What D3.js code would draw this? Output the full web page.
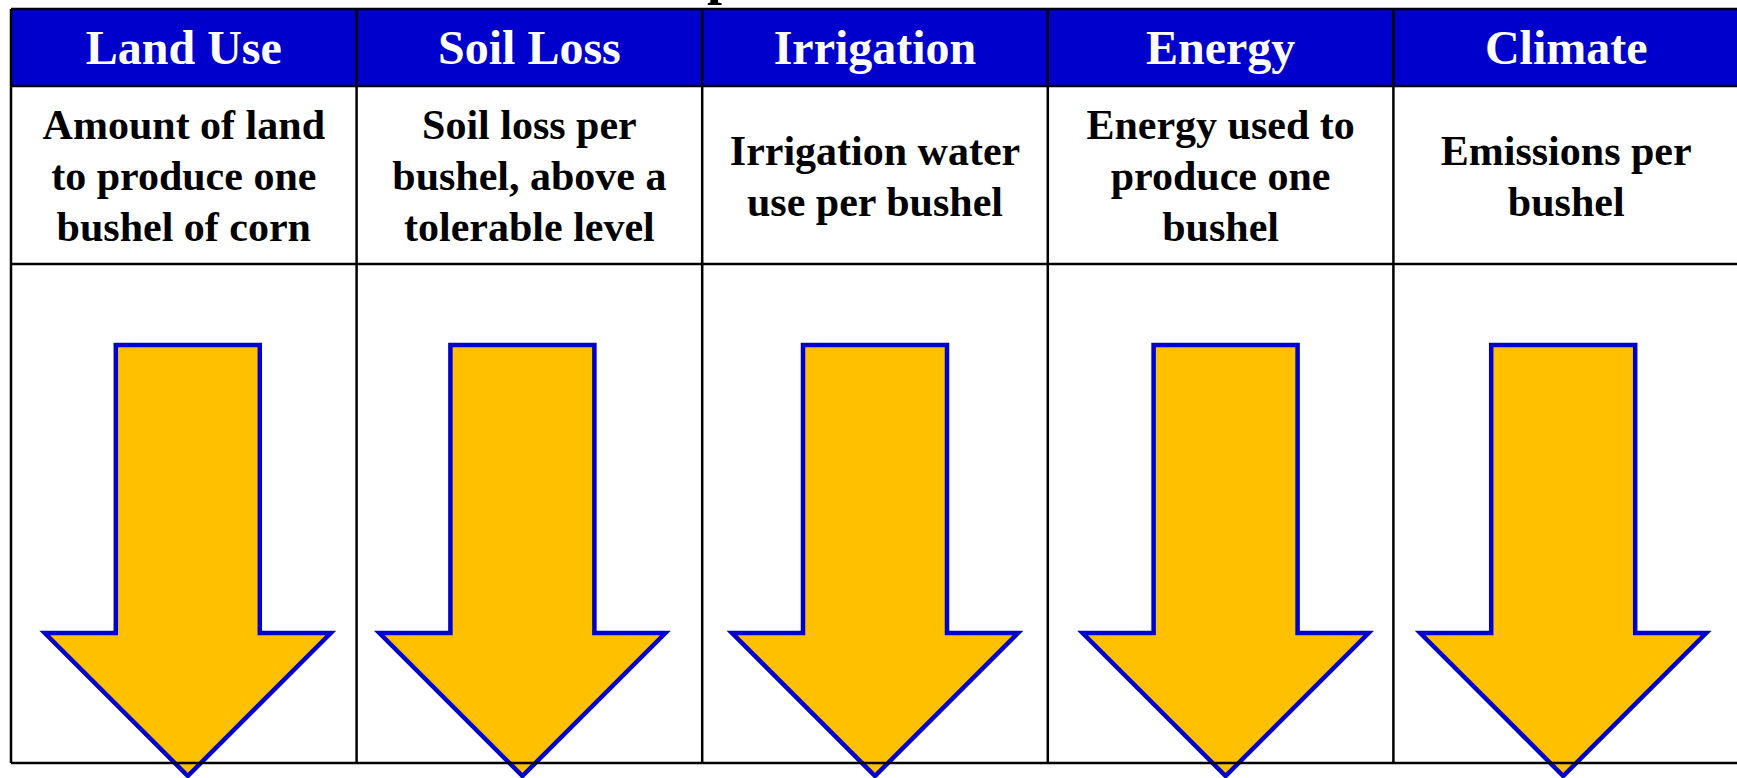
<!DOCTYPE html>
<html>
<head>
<meta charset="utf-8">
<script src="https://cdn.jsdelivr.net/npm/d3@7"></script>
<style>
  html, body { margin: 0; padding: 0; background: #ffffff; }
  svg { display: block; }
</style>
</head>
<body>
<svg id="chart" width="1737" height="778"></svg>
<script>
// ---- data ----
const titleText = "Environmental Impacts";
const categories = ["Land Use", "Soil Loss", "Irrigation", "Energy", "Climate"];
const descriptions = [
  ["Amount of land", "to produce one", "bushel of corn"],
  ["Soil loss per", "bushel, above a", "tolerable level"],
  ["Irrigation water", "use per bushel"],
  ["Energy used to", "produce one", "bushel"],
  ["Emissions per", "bushel"]
];
const trends = ["down", "down", "down", "down", "down"];

// ---- layout ----
const W = 1737, H = 778;
const tableLeft = 11, colW = 345.6;
const rowTop = 9, headBottom = 86, descBottom = 264, tableBottom = 763;
const blue = "#0000cc", gold = "#ffc000";
const arrowNudge = [4, -7, 0, 5, -3];

const svg = d3.select("#chart");

const x = d3.scaleBand()
  .domain(categories)
  .range([tableLeft, tableLeft + colW * categories.length])
  .paddingInner(0).paddingOuter(0);

// arrow row vertical scale (0 = top of arrow, 1 = tip)
const ay = d3.scaleLinear().domain([0, 1]).range([345, 776]);
const wingFrac = (633 - 345) / (776 - 345);

// title (mostly above the visible frame)
const title = svg.append("text")
  .attr("x", 0).attr("y", -7)
  .attr("font-family", "'Liberation Serif', 'Times New Roman', serif")
  .attr("font-weight", "bold")
  .attr("font-size", 54)
  .attr("fill", "#000")
  .text(titleText);
const pIdx = titleText.indexOf("p");
const pNode = title.node();
const pPos = pNode.getStartPositionOfChar(pIdx).x;
const pW = pNode.getSubStringLength(pIdx, 1);
title.attr("x", 722 - pPos - pW / 2);

// header cells
svg.append("g").selectAll("rect")
  .data(categories)
  .join("rect")
  .attr("x", d => x(d))
  .attr("y", rowTop)
  .attr("width", x.bandwidth())
  .attr("height", headBottom - rowTop)
  .attr("fill", blue);

// header labels
svg.append("g").selectAll("text")
  .data(categories)
  .join("text")
  .attr("x", d => x(d) + x.bandwidth() / 2)
  .attr("y", 64)
  .attr("text-anchor", "middle")
  .attr("font-family", "'Liberation Serif', 'Times New Roman', serif")
  .attr("font-weight", "bold")
  .attr("font-size", 48)
  .attr("fill", "#ffffff")
  .text(d => d);

// descriptions
const lineH = 51, capH = 28, descCenter = 176;
const descG = svg.append("g");
categories.forEach((c, i) => {
  const lines = descriptions[i];
  const first = descCenter - (lines.length - 1) * lineH / 2 + capH / 2;
  descG.append("text")
    .attr("text-anchor", "middle")
    .attr("font-family", "'Liberation Serif', 'Times New Roman', serif")
    .attr("font-weight", "bold")
    .attr("font-size", 42)
    .attr("fill", "#000")
    .selectAll("tspan")
    .data(lines)
    .join("tspan")
    .attr("x", x(c) + x.bandwidth() / 2)
    .attr("y", (d, j) => first + j * lineH)
    .text(d => d);
});

// arrows
const shaftHalf = 72, headHalf = 143;
svg.append("g").selectAll("path")
  .data(categories.map((c, i) => ({ c, t: trends[i], i })))
  .join("path")
  .attr("d", d => {
    const cx = x(d.c) + x.bandwidth() / 2 + arrowNudge[d.i];
    const p = d3.path();
    const yTop = ay(0), yW = ay(wingFrac), yTip = ay(1);
    p.moveTo(cx - shaftHalf, yTop);
    p.lineTo(cx + shaftHalf, yTop);
    p.lineTo(cx + shaftHalf, yW);
    p.lineTo(cx + headHalf, yW);
    p.lineTo(cx, yTip);
    p.lineTo(cx - headHalf, yW);
    p.lineTo(cx - shaftHalf, yW);
    p.closePath();
    return p.toString();
  })
  .attr("fill", gold)
  .attr("stroke", blue)
  .attr("stroke-width", 4.5)
  .attr("stroke-linejoin", "miter");

// grid lines
const right = tableLeft + colW * categories.length;
const grid = svg.append("g").attr("stroke", "#000").attr("stroke-width", 2.5);
[rowTop, headBottom, descBottom, tableBottom].forEach(yv => {
  grid.append("line").attr("x1", tableLeft).attr("x2", right)
    .attr("y1", yv).attr("y2", yv);
});
const bounds = categories.map(c => x(c));
grid.selectAll("line.v")
  .data(bounds)
  .join("line")
  .attr("class", "v")
  .attr("x1", d => d).attr("x2", d => d)
  .attr("y1", rowTop).attr("y2", tableBottom);
</script>
</body>
</html>
